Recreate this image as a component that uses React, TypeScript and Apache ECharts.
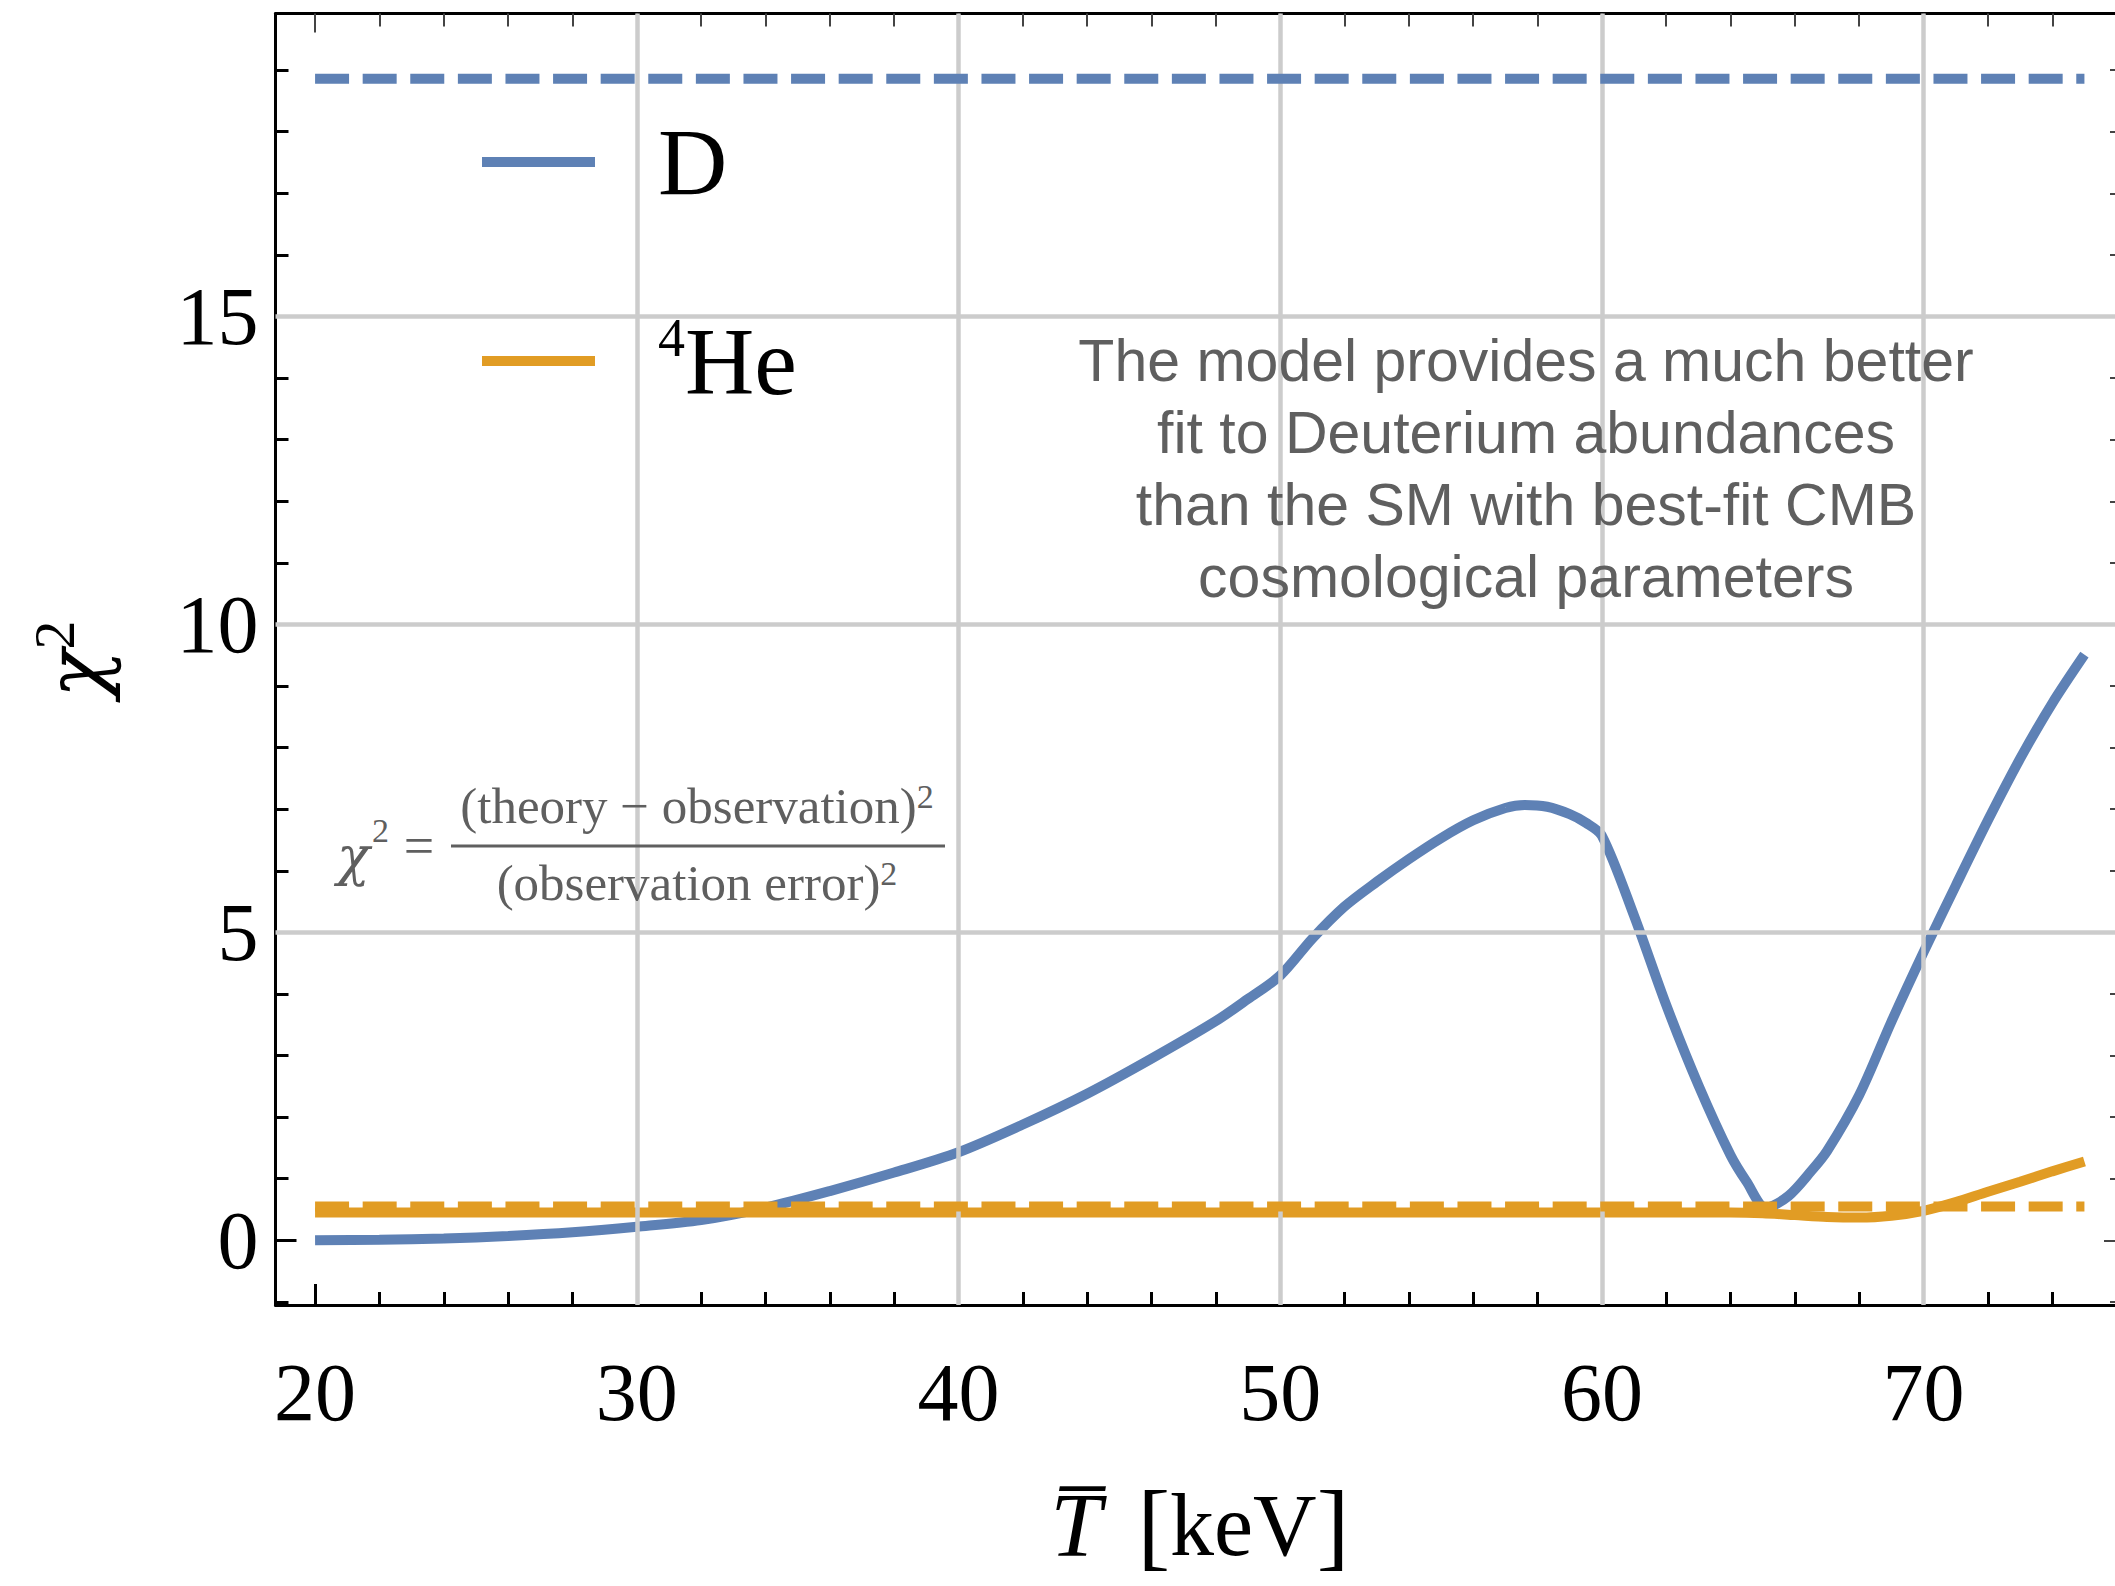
import React, { useEffect, useRef } from "react";
import * as echarts from "echarts";

// ---------- data ----------
const xMajor = [20, 30, 40, 50, 60, 70];
const xMinor = [22, 24, 26, 28, 32, 34, 36, 38, 42, 44, 46, 48, 52, 54, 56, 58, 62, 64, 66, 68, 72, 74];
const yMajor = [0, 5, 10, 15];
const yMinor = [-1, 1, 2, 3, 4, 6, 7, 8, 9, 11, 12, 13, 14, 16, 17, 18, 19];
const xGrid = [30, 40, 50, 60, 70];
const yGrid = [5, 10, 15];

// D (deuterium) chi^2 vs T
const dT = [20, 22, 24, 26, 28, 30, 32, 34, 36, 38, 40, 42, 44, 46, 48, 49, 50, 51, 52, 53, 54, 55, 56, 57, 57.6, 58.3, 59, 59.5, 60, 61, 62, 63, 64, 64.5, 65.1, 65.8, 66.5, 67, 68, 69, 70, 71, 72, 73, 74, 75];
const dChi2 = [0, 0.01, 0.03, 0.07, 0.13, 0.22, 0.33, 0.53, 0.8, 1.1, 1.43, 1.88, 2.38, 2.95, 3.56, 3.92, 4.3, 4.9, 5.42, 5.82, 6.19, 6.53, 6.82, 7.02, 7.07, 7.04, 6.92, 6.78, 6.57, 5.27, 3.82, 2.52, 1.38, 0.95, 0.53, 0.72, 1.12, 1.45, 2.36, 3.55, 4.68, 5.76, 6.82, 7.82, 8.72, 9.51];

// 4He chi^2 vs T
const heT = [20, 30, 40, 50, 60, 64, 65, 66, 67, 68, 69, 70, 71, 72, 73, 74, 75];
const heChi2 = [0.45, 0.45, 0.45, 0.45, 0.45, 0.45, 0.44, 0.41, 0.38, 0.37, 0.4, 0.48, 0.62, 0.79, 0.95, 1.12, 1.28];

// Standard-model reference levels (dashed)
const smT = [20, 75];
const smD = [18.86, 18.86];
const smHe = [0.55, 0.55];

const noteLines = [
  "The model provides a much better",
  "fit to Deuterium abundances",
  "than the SM with best-fit CMB",
  "cosmological parameters",
];

// ---------- styling ----------
const BLUE = "#5E81B5";
const ORANGE = "#E19C24";
const GRID = "#CCCCCC";
const NOTE = "#5F5F5F";
const serif = "'Liberation Serif', 'Times New Roman', serif";
const greek = "'DejaVu Serif', 'Liberation Serif', serif";
const sans = "'Liberation Sans', Arial, Helvetica, sans-serif";
const X_MIN = 18.77;
const X_MAX = 76.23;
const Y_MIN = -1.05;
const Y_MAX = 19.92;
const LW = 10;

const zip = (a: number[], b: number[]) => a.map((v, i) => [v, b[i]]);

function tickAxis(
  position: string,
  ticks: number[],
  len: number,
  color: string,
  width: number,
  showLine: boolean,
  isX: boolean
) {
  return {
    type: "value",
    gridIndex: 0,
    position,
    min: isX ? X_MIN : Y_MIN,
    max: isX ? X_MAX : Y_MAX,
    axisLine: { show: showLine, onZero: false, lineStyle: { color: "#000", width: 3 } },
    axisTick: { show: true, inside: true, length: len, customValues: ticks, lineStyle: { color, width } },
    axisLabel: { show: false },
    splitLine: { show: false },
    minorTick: { show: false },
  };
}

function buildOption() {
  const xAxes: any[] = [
    {
      ...tickAxis("bottom", xMajor, 21, "#000", 3, true, true),
      axisLabel: {
        show: true,
        customValues: xMajor,
        fontSize: 82,
        fontFamily: serif,
        color: "#000",
        margin: 46,
      },
      name: "{i|T\u0305}{g| }{br|[}{r|keV}{br|]}",
      nameLocation: "middle",
      nameGap: 172,
      nameTextStyle: {
        rich: {
          i: { fontFamily: serif, fontStyle: "italic", fontSize: 92, lineHeight: 96, color: "#000" },
          g: { width: 36, fontSize: 88, lineHeight: 96 },
          br: { fontFamily: serif, fontSize: 98, lineHeight: 96, color: "#000" },
          r: { fontFamily: serif, fontSize: 88, lineHeight: 96, color: "#000" },
        },
      },
    },
    tickAxis("bottom", xMinor, 13, "#000", 3, false, true),
    tickAxis("top", xMajor, 19, "#444", 2, true, true),
    tickAxis("top", xMinor, 13, "#444", 2, false, true),
  ];

  const yAxes: any[] = [
    {
      ...tickAxis("left", yMajor, 21, "#000", 3, true, false),
      axisLabel: {
        show: true,
        customValues: yMajor,
        fontSize: 82,
        fontFamily: serif,
        color: "#000",
        margin: 17,
        padding: [20, 0, 0, 0],
      },
      name: "{i|χ}{s|2}",
      nameLocation: "middle",
      nameRotate: 90,
      nameGap: 150,
      nameTextStyle: {
        rich: {
          i: { fontFamily: greek, fontStyle: "italic", fontSize: 80, lineHeight: 100, color: "#000" },
          s: { fontFamily: serif, fontSize: 58, lineHeight: 64, verticalAlign: "top", color: "#000" },
        },
      },
    },
    tickAxis("left", yMinor, 13, "#000", 3, false, false),
    tickAxis("right", yMajor, 20, "#444", 2, true, false),
    tickAxis("right", yMinor, 14, "#444", 2, false, false),
  ];

  const gridLineData = [
    ...yGrid.map((v) => ({ yAxis: v })),
    ...xGrid.map((v) => ({ xAxis: v })),
  ];

  return {
    animation: false,
    backgroundColor: "#fff",
    grid: {
      left: 275.5,
      top: 13.5,
      width: 1848.5,
      height: 1291.5,
      containLabel: false,
      outerBoundsMode: "none",
    },
    xAxis: xAxes,
    yAxis: yAxes,
    legend: {
      data: ["D", "⁴He"],
      orient: "vertical",
      left: 482,
      top: 114,
      padding: 0,
      itemGap: 101,
      itemWidth: 113,
      itemHeight: LW,
      icon: "rect",
      selectedMode: false,
      formatter: (name: string) => (name === "D" ? "{g| }{b|D}" : "{g| }{s|4}{b|He}"),
      textStyle: {
        fontFamily: serif,
        fontSize: 95,
        color: "#000",
        rich: {
          g: { width: 58, fontSize: 95, lineHeight: 100 },
          b: { fontFamily: serif, fontSize: 96, lineHeight: 100, color: "#000" },
          s: { fontFamily: serif, fontSize: 54, lineHeight: 58, verticalAlign: "top", color: "#000" },
        },
      },
    },
    series: [
      {
        name: "grid",
        type: "line",
        data: [],
        z: 1,
        silent: true,
        markLine: {
          silent: true,
          symbol: ["none", "none"],
          label: { show: false },
          emphasis: { disabled: true },
          lineStyle: { color: GRID, width: 4.5, type: "solid" },
          data: gridLineData,
        },
      },
      {
        name: "D",
        type: "line",
        data: zip(dT, dChi2),
        showSymbol: false,
        symbol: "none",
        smooth: 0.3,
        color: BLUE,
        lineStyle: { color: BLUE, width: LW },
        z: 3,
      },
      {
        name: "⁴He",
        type: "line",
        data: zip(heT, heChi2),
        showSymbol: false,
        symbol: "none",
        smooth: 0.3,
        color: ORANGE,
        lineStyle: { color: ORANGE, width: LW },
        z: 4,
      },
      {
        name: "D SM",
        type: "line",
        data: zip(smT, smD),
        showSymbol: false,
        symbol: "none",
        color: BLUE,
        lineStyle: { color: BLUE, width: LW, type: [34, 13.6] },
        z: 5,
      },
      {
        name: "He SM",
        type: "line",
        data: zip(smT, smHe),
        showSymbol: false,
        symbol: "none",
        color: ORANGE,
        lineStyle: { color: ORANGE, width: LW, type: [34, 13.6] },
        z: 5,
      },
    ],
    graphic: [
      {
        type: "text",
        x: 1526,
        y: 469,
        z: 10,
        style: {
          text: noteLines.join("\n"),
          align: "center",
          verticalAlign: "middle",
          fontFamily: sans,
          fontSize: 59,
          lineHeight: 72,
          fill: NOTE,
        },
      },
      // chi^2 = fraction
      {
        type: "text",
        x: 337,
        y: 856,
        z: 10,
        style: { text: "χ", align: "left", verticalAlign: "middle", fontFamily: greek, fontStyle: "italic", fontSize: 54, fill: NOTE },
      },
      {
        type: "text",
        x: 372,
        y: 830,
        z: 10,
        style: { text: "2", align: "left", verticalAlign: "middle", fontFamily: serif, fontSize: 34, fill: NOTE },
      },
      {
        type: "text",
        x: 419,
        y: 846,
        z: 10,
        style: { text: "=", align: "center", verticalAlign: "middle", fontFamily: serif, fontSize: 54, fill: NOTE },
      },
      {
        type: "line",
        z: 10,
        shape: { x1: 451, y1: 846, x2: 945, y2: 846 },
        style: { stroke: NOTE, lineWidth: 3 },
      },
      {
        type: "text",
        x: 697,
        y: 806,
        z: 10,
        style: {
          text: "{m|(theory − observation)}{s|2}",
          align: "center",
          verticalAlign: "middle",
          rich: {
            m: { fontFamily: serif, fontSize: 51, lineHeight: 54, fill: NOTE },
            s: { fontFamily: serif, fontSize: 34, lineHeight: 34, verticalAlign: "top", fill: NOTE },
          },
        },
      },
      {
        type: "text",
        x: 697,
        y: 883,
        z: 10,
        style: {
          text: "{m|(observation error)}{s|2}",
          align: "center",
          verticalAlign: "middle",
          rich: {
            m: { fontFamily: serif, fontSize: 51, lineHeight: 54, fill: NOTE },
            s: { fontFamily: serif, fontSize: 34, lineHeight: 34, verticalAlign: "top", fill: NOTE },
          },
        },
      },
    ],
  };
}

export default function App() {
  const ref = useRef<HTMLDivElement>(null);
  useEffect(() => {
    document.body.style.margin = "0";
    const chart = echarts.init(ref.current as HTMLDivElement, null, { renderer: "svg" });
    chart.setOption(buildOption() as any);
    return () => chart.dispose();
  }, []);
  return <div ref={ref} style={{ width: 2115, height: 1586, background: "#fff" }} />;
}
